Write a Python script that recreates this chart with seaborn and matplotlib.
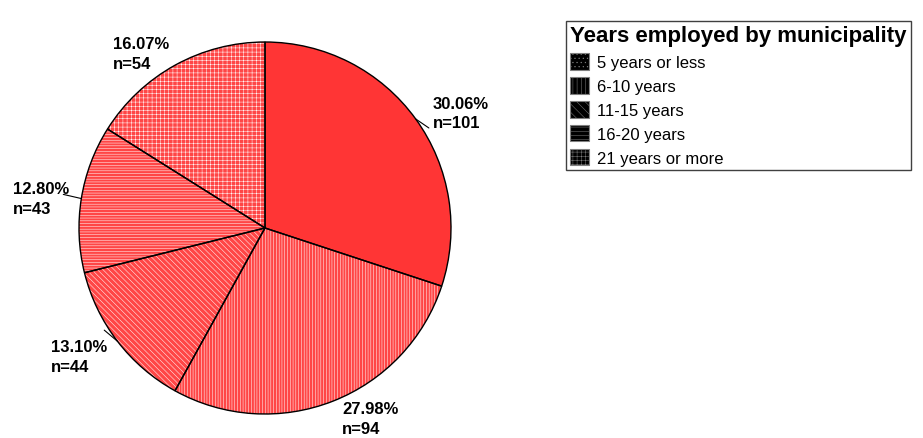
import numpy as np
import matplotlib
matplotlib.use("Agg")
import matplotlib.pyplot as plt
from matplotlib.patches import Patch
import seaborn as sns

# Respondent counts by years employed
categories = ["5 years or less", "6-10 years", "11-15 years", "16-20 years", "21 years or more"]
counts = [101, 94, 44, 43, 54]
legend_title = "Years employed by municipality"

sns.set_style("white")
plt.rcParams["font.family"] = ["Liberation Sans", "DejaVu Sans"]
plt.rcParams["text.color"] = "black"
plt.rcParams["hatch.linewidth"] = 0.35

slice_hatches = [None, "||||||", "\\\\\\\\\\\\", "------", "++++"]
legend_hatches = ["....", "||||", "\\\\\\\\", "----", "++++"]

W, H = 923, 439
fig = plt.figure(figsize=(W / 100, H / 100), dpi=100)
cx, cy, R = 265, 229, 186
ax = fig.add_axes([(cx - R) / W, (H - cy - R) / H, 2 * R / W, 2 * R / H])

# Filled, hatched wedges (white hatch lines, no outline)
wedges, _ = ax.pie(counts, startangle=90, counterclock=False,
                   colors=["#ff3535"] + ["#ff4646"] * (len(counts) - 1),
                   wedgeprops=dict(edgecolor="white", linewidth=0))
for w, h in zip(wedges, slice_hatches):
    if h:
        w.set_hatch(h)

# Black outlines on top
ax.pie(counts, startangle=90, counterclock=False,
       wedgeprops=dict(fill=False, edgecolor="black", linewidth=1.0))
ax.set_xlim(-1, 1)
ax.set_ylim(-1, 1)
ax.set_aspect("equal")
ax.axis("off")

total = sum(counts)
# label anchor (left edge of text block, vertical centre) in pie-radius units
label_pos = [(0.903, 0.618), (0.414, -1.025), (-1.150, -0.690), (-1.355, 0.159), (-0.817, 0.938)]
# leader line offsets from the wedge rim, in points
leader = [(9.5, -6.5), None, (-9.5, 8), (-13, 3), None]

for w, v, (lx, ly), off in zip(wedges, counts, label_pos, leader):
    text = f"{v / total * 100:.2f}%\nn={v}"
    ax.text(lx, ly, text, ha="left", va="center", fontsize=12, fontweight="bold",
            linespacing=1.4, clip_on=False, color="black")
    if off is not None:
        ang = np.deg2rad((w.theta1 + w.theta2) / 2)
        ax.annotate("", xy=(np.cos(ang), np.sin(ang)), xytext=off,
                    textcoords="offset points",
                    arrowprops=dict(arrowstyle="-", color="black", lw=0.8,
                                    shrinkA=0, shrinkB=0))

handles = [Patch(facecolor="black", edgecolor="#808080", hatch=h, linewidth=0.8)
           for h in legend_hatches]
leg = fig.legend(handles, categories, title=legend_title,
                 loc="upper left", bbox_to_anchor=(566 / W, 1 - 22 / H),
                 frameon=True, fancybox=False, shadow=False,
                 fontsize=12, title_fontsize=16,
                 handlelength=1.15, handleheight=1.15, handletextpad=0.45,
                 labelspacing=0.42, borderpad=0.25, borderaxespad=0)
leg.get_title().set_fontweight("bold")
leg.get_title().set_color("black")
for t in leg.get_texts():
    t.set_color("black")
leg._legend_box.align = "left"
frame = leg.get_frame()
frame.set_edgecolor("#404040")
frame.set_linewidth(1.0)
frame.set_alpha(1)

fig.savefig("out.png", dpi=100)
